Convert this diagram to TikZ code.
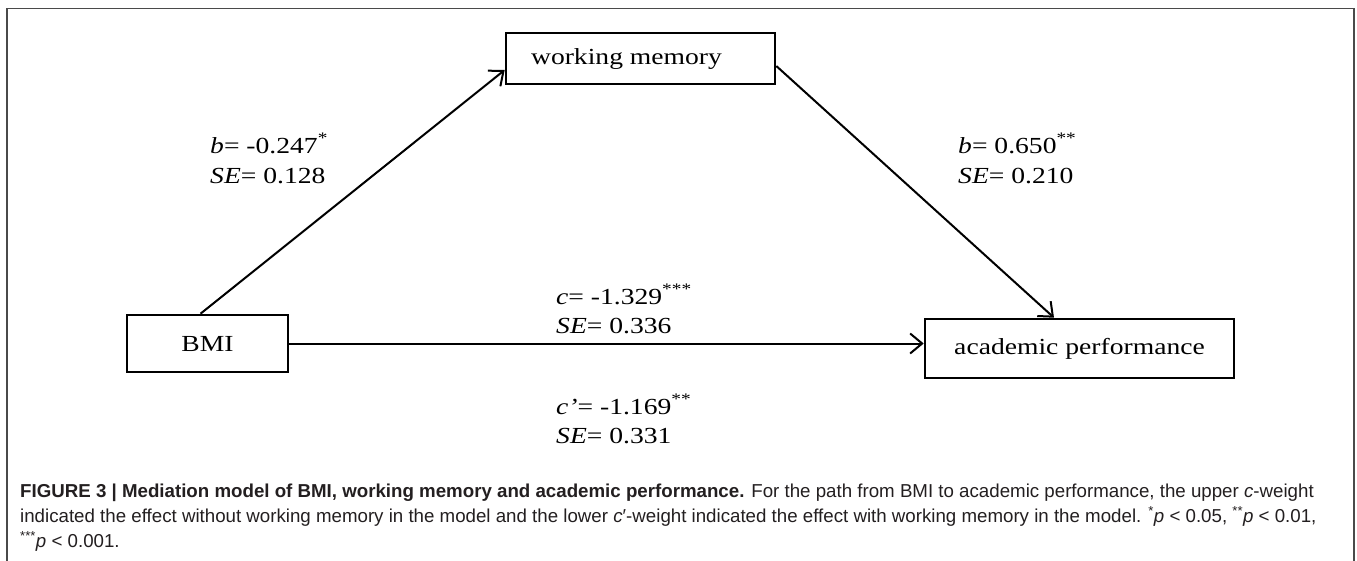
\documentclass[tikz,border=0pt]{standalone}
\usepackage{fontspec}
\setmainfont{Liberation Serif}
\newfontfamily\capfont{Liberation Sans}
\usetikzlibrary{arrows.meta,calc}
\newcommand\stretchtxt[1]{\scalebox{1.2}[1]{#1}}
\definecolor{captxt}{HTML}{231F20}
\definecolor{framecol}{HTML}{4A4A4A}
\tikzset{
  varbox/.style={draw=black, line width=2.6pt, minimum height=#1, inner sep=0pt, font=\fontsize{23}{27}\selectfont},
  path/.style={draw=black, line width=2pt, -{Straight Barb[length=12pt,width=20pt,line width=2pt]}},
  lbl/.style={anchor=base west, inner sep=0pt, font=\fontsize{23}{27}\selectfont},
  captext/.style={anchor=base west, inner sep=0pt, text=captxt, font=\capfont\fontsize{18.7}{22}\selectfont}
}
\begin{document}
\begin{tikzpicture}[x=1pt,y=-1pt]
\useasboundingbox (0,0) rectangle (1357,560);
\fill[white] (0,0) rectangle (1357,560);
\draw[framecol, line width=1.8pt] (7,561) -- (7,8.5) -- (1354,8.5) -- (1354,561);

\node[varbox=51pt, minimum width=269pt] (wm) at (640.5,58.5) {\stretchtxt{working memory}\rule{28pt}{0pt}};
\node[varbox=57pt, minimum width=161pt] (bmi) at (207.5,343.5) {\stretchtxt{BMI}};
\node[varbox=59pt, minimum width=309pt] (ap) at (1079.5,348.5) {\stretchtxt{academic performance}};

\draw[path] ([xshift=-7pt]bmi.north) -- ([yshift=-11.5pt]wm.west);
\draw[path] ([yshift=-7.5pt]wm.east) -- ([xshift=-25.5pt]ap.north);
\draw[path] (bmi.east) -- (bmi.east -| ap.west);

\node[lbl] (lb1) at (210,153) {\stretchtxt{\textit{b}= -0.247\textsuperscript{*}}};
\node[lbl] (lse1) at (210,183) {\stretchtxt{\textit{SE}= 0.128}};
\node[lbl] (lb2) at (958,153) {\stretchtxt{\textit{b}= 0.650\textsuperscript{**}}};
\node[lbl] (lse2) at (958,183) {\stretchtxt{\textit{SE}= 0.210}};
\node[lbl] (lc) at (556,304) {\stretchtxt{\textit{c}= -1.329\textsuperscript{***}}};
\node[lbl] (lse3) at (556,333) {\stretchtxt{\textit{SE}= 0.336}};
\node[lbl] (lcp) at (556,414) {\stretchtxt{\textit{c'}= -1.169\textsuperscript{**}}};
\node[lbl] (lse4) at (556,443) {\stretchtxt{\textit{SE}= 0.331}};

\node[captext] (cap1) at (20,497) {\textbf{FIGURE 3 | Mediation model of BMI, working memory and academic performance.} For the path from BMI to academic performance, the upper \textit{c}-weight};
\node[captext] (cap2) at (20,522) {indicated the effect without working memory in the model and the lower \textit{c}′-weight indicated the effect with working memory in the model. \textsuperscript{*}\textit{p} < 0.05, \textsuperscript{**}\textit{p} < 0.01,};
\node[captext] (cap3) at (20,547) {\textsuperscript{***}\textit{p} < 0.001.};
\end{tikzpicture}
\end{document}
